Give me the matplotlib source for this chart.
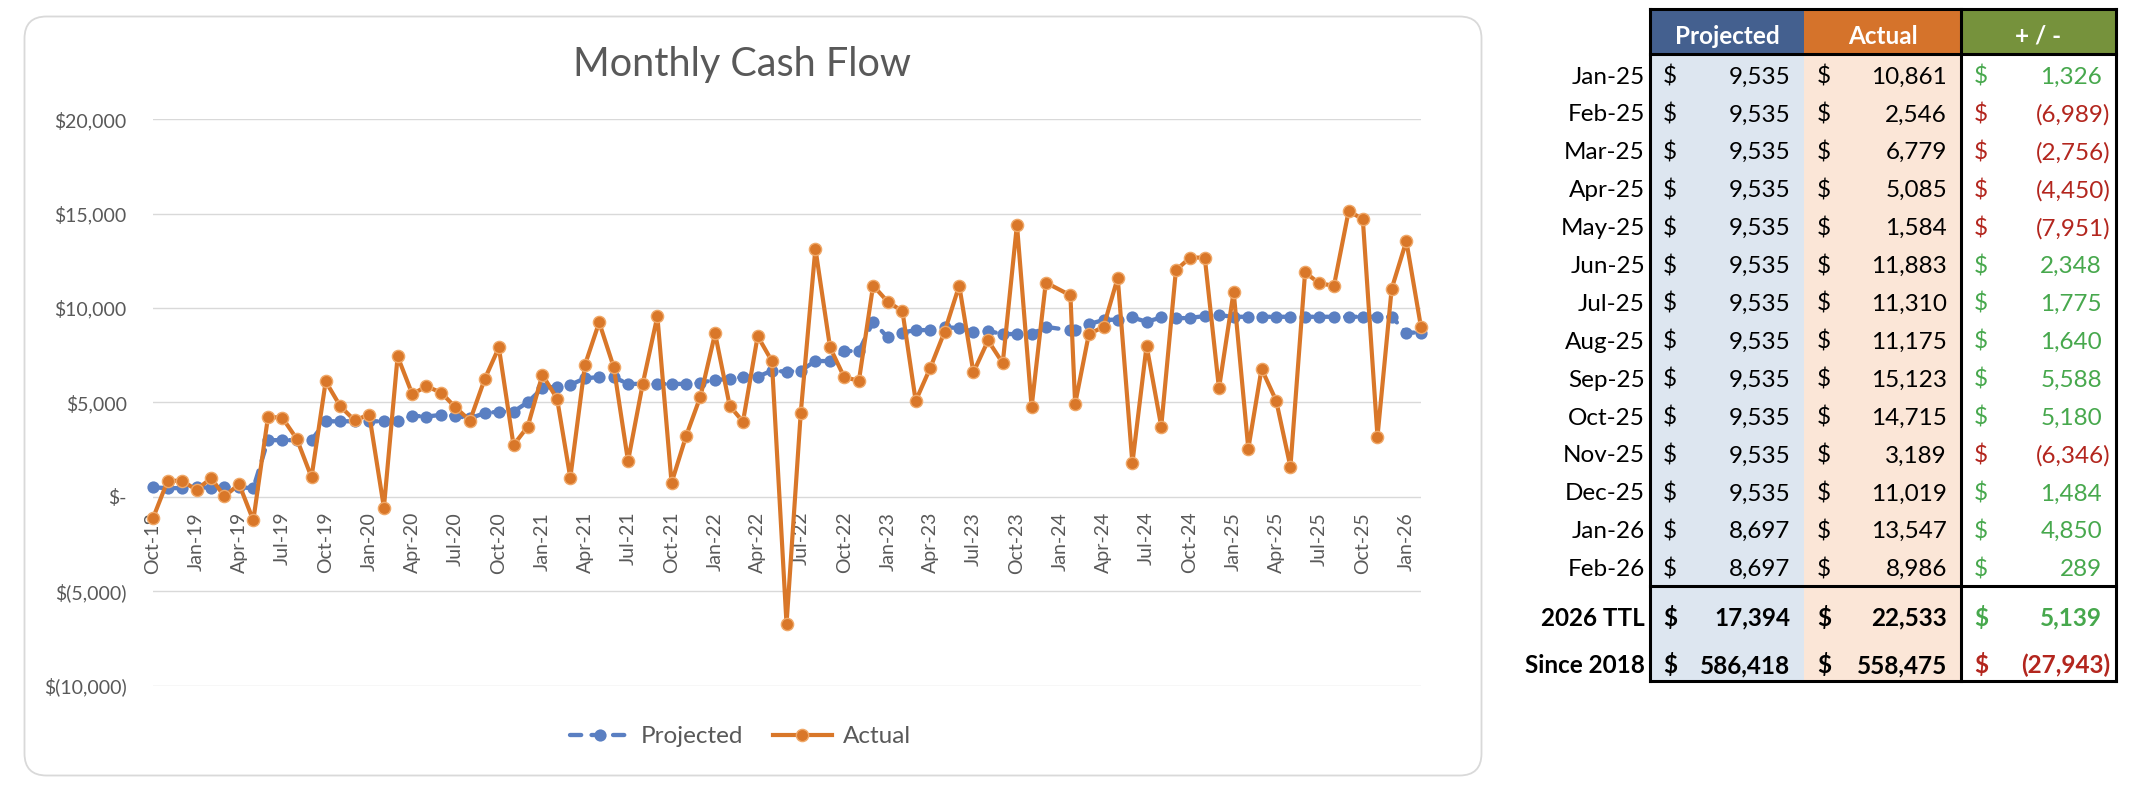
import matplotlib
matplotlib.use("Agg")
import matplotlib.pyplot as plt
from matplotlib.patches import FancyBboxPatch, Rectangle
import pandas as pd

plt.rcParams['font.family'] = ['Lato', 'DejaVu Sans']

# ---------------- chart data ----------------
month_dates = list(pd.date_range("2018-10-01", periods=89, freq="MS"))
month_dates[63] = pd.Timestamp("2024-01-22")   # one entry dated late in the month

projected = [500, 460, 460, 540, 460, 540, 500, 460,
             3000, 3000, 3000, 3000,
             4000, 4000, 4000, 4000, 4000, 4000,
             4290, 4250,
             4340, 4280, 4160, 4430, 4510, 4510,
             5010, 5750, 5840, 5930,
             6280, 6340, 6340,
             5980, 5980, 5980, 5980, 5980,
             6050, 6190, 6240, 6360, 6360,
             6680, 6630, 6680,
             7190, 7190, 7720, 7720,
             9270, 8440, 8700, 8830, 8830, 8970, 8950,
             8740, 8780, 8620, 8620, 8620,
             9000, 8820, 8850, 9150, 9360, 9390,
             9500, 9270, 9500, 9450, 9480, 9570, 9620,
             9535, 9535, 9535, 9535, 9535, 9535, 9535, 9535, 9535, 9535, 9535, 9535,
             8697, 8697]

actual = [-1130, 850, 850, 370, 990, 20, 670, -1250, 4220, 4200,
          3060, 1040, 6110, 4790, 4050, 4350, -570, 7440, 5440, 5850,
          5520, 4740, 4040, 6230, 7910, 2740, 3720, 6460, 5200, 1010,
          6990, 9240, 6850, 1890, 5970, 9560, 740, 3240, 5310,
          8650, 4810, 3980, 8510, 7190, -6730, 4420, 13150, 7910, 6330,
          6150, 11190, 10330, 9830, 5080, 6840, 8740, 11190, 6590, 8280, 7080,
          14410, 4760, 11350, 10670, 4920, 8620, 9000, 11600, 1780, 8000,
          3720, 12000, 12670, 12670, 5740,
          10861, 2546, 6779, 5085, 1584, 11883, 11310, 11175, 15123, 14715,
          3189, 11019, 13547, 8986]

xtick_labels = ["Oct-18", "Jan-19", "Apr-19", "Jul-19", "Oct-19", "Jan-20", "Apr-20",
                "Jul-20", "Oct-20", "Jan-21", "Apr-21", "Jul-21", "Oct-21", "Jan-22",
                "Apr-22", "Jul-22", "Oct-22", "Jan-23", "Apr-23", "Jul-23", "Oct-23",
                "Jan-24", "Apr-24", "Jul-24", "Oct-24", "Jan-25", "Apr-25", "Jul-25",
                "Oct-25", "Jan-26"]
xtick_dates = [pd.to_datetime(s, format="%b-%y") for s in xtick_labels]

ytick_values = [-10000, -5000, 0, 5000, 10000, 15000, 20000]
ytick_labels = ["$(10,000)", "$(5,000)", "$-", "$5,000", "$10,000", "$15,000", "$20,000"]

# ---------------- table data ----------------
table_months = ["Jan-25", "Feb-25", "Mar-25", "Apr-25", "May-25", "Jun-25", "Jul-25",
                "Aug-25", "Sep-25", "Oct-25", "Nov-25", "Dec-25", "Jan-26", "Feb-26"]
table_projected = [9535, 9535, 9535, 9535, 9535, 9535, 9535, 9535, 9535, 9535, 9535, 9535, 8697, 8697]
table_actual = [10861, 2546, 6779, 5085, 1584, 11883, 11310, 11175, 15123, 14715, 3189, 11019, 13547, 8986]
table_diff = [1326, -6989, -2756, -4450, -7951, 2348, 1775, 1640, 5588, 5180, -6346, 1484, 4850, 289]
total_labels = ["2026 TTL", "Since 2018"]
total_projected = [17394, 586418]
total_actual = [22533, 558475]
total_diff = [5139, -27943]
headers = ["Projected", "Actual", "+ / -"]

# ---------------- style ----------------
BLUE = '#5A7FC2'
ORANGE = '#D97729'
GRID = '#D9D9D9'
TXT = '#595959'
GREEN = '#47A84D'
RED = '#B3261E'
HEAD_COLORS = ['#44608F', '#D5732B', '#76923C']
BODY_COLORS = ['#DDE6F0', '#FBE6D7', 'white']

W, H, DPI = 2132, 792, 100
fig = plt.figure(figsize=(W / DPI, H / DPI), dpi=DPI, facecolor='white')

# overlay axes in pixel coordinates (frame + table)
ov = fig.add_axes([0, 0, 1, 1], zorder=0)
ov.set_xlim(0, W)
ov.set_ylim(H, 0)
ov.axis('off')

ov.add_patch(FancyBboxPatch((24.5, 16.5), 1457, 759,
                            boxstyle="round,pad=0,rounding_size=22",
                            fc='white', ec=GRID, lw=1.3))

# ---------------- chart ----------------
L, R, T, B = 153, 1421, 119.2, 685.6
ax = fig.add_axes([L / W, 1 - B / H, (R - L) / W, (B - T) / H], zorder=1)
ax.patch.set_alpha(0)

ax.plot(month_dates, projected, color=BLUE, lw=3.1, dashes=(2.6, 2.4),
        dash_capstyle='round', marker='o', ms=8.8, mfc=BLUE, mec=BLUE, mew=0,
        clip_on=False, zorder=3, label='Projected')
ax.plot(month_dates, actual, color=ORANGE, lw=3.0, solid_joinstyle='round',
        marker='o', ms=8.8, mfc=ORANGE, mec='#F0A868', mew=1.0,
        clip_on=False, zorder=4, label='Actual')

ax.set_xlim(month_dates[0], month_dates[-1])
ax.set_ylim(-10000, 20000)
ax.set_yticks(ytick_values)
ax.set_yticklabels(ytick_labels)
ax.set_xticks(xtick_dates)
ax.set_xticklabels(xtick_labels)
ax.grid(axis='y', color=GRID, lw=1.0)
ax.grid(axis='x', visible=False)
ax.set_axisbelow(True)
for s in ['top', 'right', 'left']:
    ax.spines[s].set_visible(False)
ax.spines['bottom'].set_position(('data', 0))
ax.spines['bottom'].set_color('none')
ax.tick_params(axis='both', length=0, labelsize=14, labelcolor=TXT)
ax.tick_params(axis='y', pad=18.9)
ax.tick_params(axis='x', pad=10.8, labelrotation=90)

fig.text(742 / W, 1 - 76 / H, "Monthly Cash Flow", ha='center', va='baseline',
         fontsize=28.5, color=TXT)

h, l = ax.get_legend_handles_labels()
fig.legend(h, l, loc='center', bbox_to_anchor=(740.5 / W, 1 - 736.7 / H), ncol=2,
           frameon=False, fontsize=17.5, handlelength=2.45, handletextpad=0.45,
           columnspacing=1.23, labelcolor=TXT)

# ---------------- table ----------------
cols = [1650, 1804, 1961, 2116]
top, head_bot, sep, bot = 9, 54, 586, 681
for i in range(3):
    ov.add_patch(Rectangle((cols[i], top), cols[i + 1] - cols[i], head_bot - top,
                           fc=HEAD_COLORS[i], ec='none'))
    ov.add_patch(Rectangle((cols[i], head_bot), cols[i + 1] - cols[i], bot - head_bot,
                           fc=BODY_COLORS[i], ec='none'))
    ov.text((cols[i] + cols[i + 1]) / 2, 43.5, headers[i], ha='center', va='baseline',
            fontsize=17.5, fontweight='bold', color='white')

blw = 2.2
for yy in [top, head_bot, sep, bot]:
    ov.plot([cols[0], cols[3]], [yy, yy], color='black', lw=blw, solid_capstyle='projecting')
for xx in [cols[0], cols[2], cols[3]]:
    ov.plot([xx, xx], [top, bot], color='black', lw=blw, solid_capstyle='projecting')


def money(v):
    return f"({abs(v):,})" if v < 0 else f"{v:,}"


def put_row(base, label, vals, bold=False):
    fw = 'bold' if bold else 'normal'
    ov.text(1645, base, label, ha='right', va='baseline', fontsize=17.5, fontweight=fw,
            color='black')
    for i, v in enumerate(vals):
        if i == 2:
            c = GREEN if v >= 0 else RED
        else:
            c = 'black'
        ov.text(cols[i] + 13, base, "$", ha='left', va='baseline', fontsize=17.5,
                fontweight=fw, color=c)
        xr = cols[i + 1] - (5.5 if v < 0 else 14)
        ov.text(xr, base, money(v), ha='right', va='baseline', fontsize=17.5,
                fontweight=fw, color=c)


for k, m in enumerate(table_months):
    put_row(83.5 + 37.9 * k, m, [table_projected[k], table_actual[k], table_diff[k]])

for k, (lab, base) in enumerate(zip(total_labels, [625.7, 673.3])):
    put_row(base, lab, [total_projected[k], total_actual[k], total_diff[k]], bold=True)

fig.savefig("out.png", dpi=DPI, facecolor='white')
